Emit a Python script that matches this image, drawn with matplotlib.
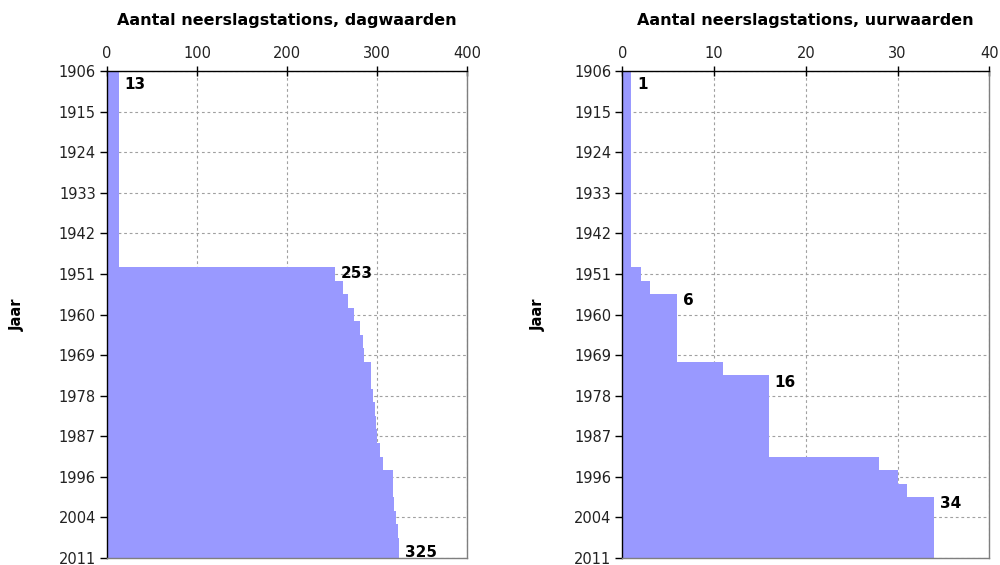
import matplotlib
matplotlib.use("Agg")
import matplotlib.pyplot as plt
import numpy as np

# 37 categories (top to bottom), labelled every third one
tick_labels = ["1906", "1915", "1924", "1933", "1942", "1951", "1960",
               "1969", "1978", "1987", "1996", "2004", "2011"]

day_counts = [13] * 15 + [253, 262, 268, 274, 281, 284, 286, 293, 293, 296,
                          298, 299, 300, 303, 307, 318, 318, 319, 321, 323,
                          324, 325]
hour_counts = [1] * 15 + [2, 3, 6, 6, 6, 6, 6, 11, 16, 16, 16, 16, 16, 16,
                          28, 30, 31, 34, 34, 34, 34, 34]

# (category index, value) of the annotated steps
day_marks = [(1, 13), (15, 253), (36, 325)]
hour_marks = [(1, 1), (17, 6), (23, 16), (32, 34)]

BAR = "#9999ff"
GRID = "#a0a0a0"
EDGE = "#7f7f7f"

fig = plt.figure(figsize=(10, 5.65), dpi=100)
ax1 = fig.add_axes([0.107, 0.0124, 0.360, 0.8619])
ax2 = fig.add_axes([0.6223, 0.0124, 0.367, 0.8619])


def panel(ax, values, marks, xmax, xstep, title, ylab_pad):
    pos = np.arange(len(values))
    ax.barh(pos, values, height=1.0, color=BAR, linewidth=0, zorder=2)
    ax.set_ylim(len(values) - 1, 0)
    ax.set_xlim(0, xmax)
    ax.set_yticks(np.arange(0, len(values), 3))
    ax.set_yticklabels(tick_labels)
    ax.set_xticks(np.arange(0, xmax + 1, xstep))
    ax.xaxis.tick_top()
    ax.set_axisbelow(True)
    ax.grid(True, color=GRID, linestyle=(0, (2.5, 2.5)), linewidth=0.8)
    ax.tick_params(axis="x", direction="inout", length=7, width=1,
                   labelsize=10.5, pad=4)
    ax.tick_params(axis="y", direction="out", length=5, width=1,
                   labelsize=10.5, pad=3)
    for tl in ax.get_xticklabels() + ax.get_yticklabels():
        tl.set_color("#222222")
    ax.spines["top"].set_color("black")
    ax.spines["left"].set_color("black")
    ax.spines["right"].set_color(EDGE)
    ax.spines["bottom"].set_color(EDGE)
    for s in ax.spines.values():
        s.set_linewidth(1.0)
    ax.set_title(title, fontsize=11.5, fontweight="bold", pad=15)
    ax.set_ylabel("Jaar", fontsize=10.5, fontweight="bold", labelpad=ylab_pad)
    for k, v in marks:
        dy = 4 if k == len(values) - 1 else 0
        ax.annotate(str(v), (v, k), xytext=(4, dy), textcoords="offset points",
                    ha="left", va="center", fontsize=11, fontweight="bold",
                    annotation_clip=False, zorder=3)


panel(ax1, day_counts, day_marks, 400, 100,
      "Aantal neerslagstations, dagwaarden", 24)
panel(ax2, hour_counts, hour_marks, 40, 10,
      "Aantal neerslagstations, uurwaarden", 20)

fig.savefig("out.png", dpi=100, facecolor="white")
